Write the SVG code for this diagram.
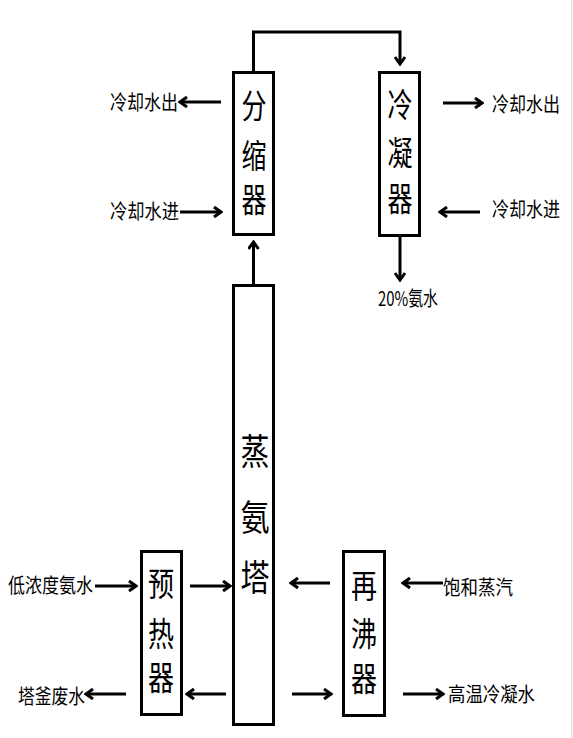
<svg xmlns="http://www.w3.org/2000/svg" width="573" height="738" viewBox="0 0 573 738">
<defs>
<marker id="ah" viewBox="0 0 12 12" refX="10" refY="6" markerWidth="12" markerHeight="12" markerUnits="userSpaceOnUse" orient="auto">
<path d="M3,1 L10,6 L3,11" fill="none" stroke="#000" stroke-width="3" stroke-linejoin="miter"/>
</marker>
<style>
.box{fill:#fff;stroke:#000;stroke-width:3}
.ln{fill:none;stroke:#000;stroke-width:3;marker-end:url(#ah)}
.bc{font-family:"Noto Sans CJK SC","Noto Sans CJK JP",sans-serif;font-size:33px;fill:#000;text-anchor:middle;dominant-baseline:central}
.tc{font-family:"Noto Sans CJK SC","Noto Sans CJK JP",sans-serif;font-size:36px;fill:#000;text-anchor:middle;dominant-baseline:central}
.lb{font-family:"Noto Sans CJK SC","Noto Sans CJK JP",sans-serif;font-size:20px;fill:#000;dominant-baseline:central}
</style>
</defs>
<rect width="573" height="738" fill="#fff"/>
<line x1="571.5" y1="0" x2="571.5" y2="738" stroke="#ddd" stroke-width="1"/>

<g id="connectors">
<path class="ln" d="M253.5,72 V32 H400 V64"/>
<path class="ln" d="M221,102 H180"/>
<path class="ln" d="M180,212 H221"/>
<path class="ln" d="M443,103 H482"/>
<path class="ln" d="M480,212 H440"/>
<path class="ln" d="M400,236 V280"/>
<path class="ln" d="M253.5,285 V242"/>
<path class="ln" d="M95,586 H136"/>
<path class="ln" d="M190,586 H230"/>
<path class="ln" d="M330,583 H291"/>
<path class="ln" d="M443,583 H403"/>
<path class="ln" d="M226,694 H187"/>
<path class="ln" d="M126,694 H86"/>
<path class="ln" d="M292,694 H331"/>
<path class="ln" d="M403,694 H443"/>
</g>

<g id="fenSuoQi">
<rect class="box" x="233.5" y="72.5" width="40" height="162"/>
<text class="bc" x="254" y="104" textLength="25" lengthAdjust="spacingAndGlyphs">分</text>
<text class="bc" x="254" y="154" textLength="25" lengthAdjust="spacingAndGlyphs">缩</text>
<text class="bc" x="254" y="198" textLength="25" lengthAdjust="spacingAndGlyphs">器</text>
</g>

<g id="lengNingQi">
<rect class="box" x="379.5" y="72.5" width="40" height="163"/>
<text class="bc" x="400" y="103" textLength="25" lengthAdjust="spacingAndGlyphs">冷</text>
<text class="bc" x="400" y="151" textLength="25" lengthAdjust="spacingAndGlyphs">凝</text>
<text class="bc" x="400" y="197" textLength="25" lengthAdjust="spacingAndGlyphs">器</text>
</g>

<g id="zhengAnTa">
<rect class="box" x="233.5" y="285.5" width="40" height="439"/>
<text class="tc" x="255" y="449" textLength="29" lengthAdjust="spacingAndGlyphs">蒸</text>
<text class="tc" x="255" y="515" textLength="29" lengthAdjust="spacingAndGlyphs">氨</text>
<text class="tc" x="255" y="575" textLength="29" lengthAdjust="spacingAndGlyphs">塔</text>
</g>

<g id="yuReQi">
<rect class="box" x="141.5" y="551.5" width="40" height="163"/>
<text class="bc" x="161" y="582" textLength="26" lengthAdjust="spacingAndGlyphs">预</text>
<text class="bc" x="161" y="632" textLength="26" lengthAdjust="spacingAndGlyphs">热</text>
<text class="bc" x="161" y="676" textLength="26" lengthAdjust="spacingAndGlyphs">器</text>
</g>

<g id="zaiFeiQi">
<rect class="box" x="343.5" y="551.5" width="41" height="164"/>
<text class="bc" x="364" y="584" textLength="26" lengthAdjust="spacingAndGlyphs">再</text>
<text class="bc" x="364" y="632" textLength="26" lengthAdjust="spacingAndGlyphs">沸</text>
<text class="bc" x="364" y="677" textLength="26" lengthAdjust="spacingAndGlyphs">器</text>
</g>

<g id="labels">
<text class="lb" x="110" y="101" textLength="68" lengthAdjust="spacingAndGlyphs">冷却水出</text>
<text class="lb" x="110" y="210" textLength="69" lengthAdjust="spacingAndGlyphs">冷却水进</text>
<text class="lb" x="492" y="103" textLength="68" lengthAdjust="spacingAndGlyphs">冷却水出</text>
<text class="lb" x="492" y="208" textLength="68" lengthAdjust="spacingAndGlyphs">冷却水进</text>
<text class="lb" x="378" y="297" textLength="60" lengthAdjust="spacingAndGlyphs">20%氨水</text>
<text class="lb" x="8" y="584" textLength="85" lengthAdjust="spacingAndGlyphs">低浓度氨水</text>
<text class="lb" x="18" y="695" textLength="67" lengthAdjust="spacingAndGlyphs">塔釜废水</text>
<text class="lb" x="443" y="586" textLength="70" lengthAdjust="spacingAndGlyphs">饱和蒸汽</text>
<text class="lb" x="448" y="693" textLength="87" lengthAdjust="spacingAndGlyphs">高温冷凝水</text>
</g>
</svg>
